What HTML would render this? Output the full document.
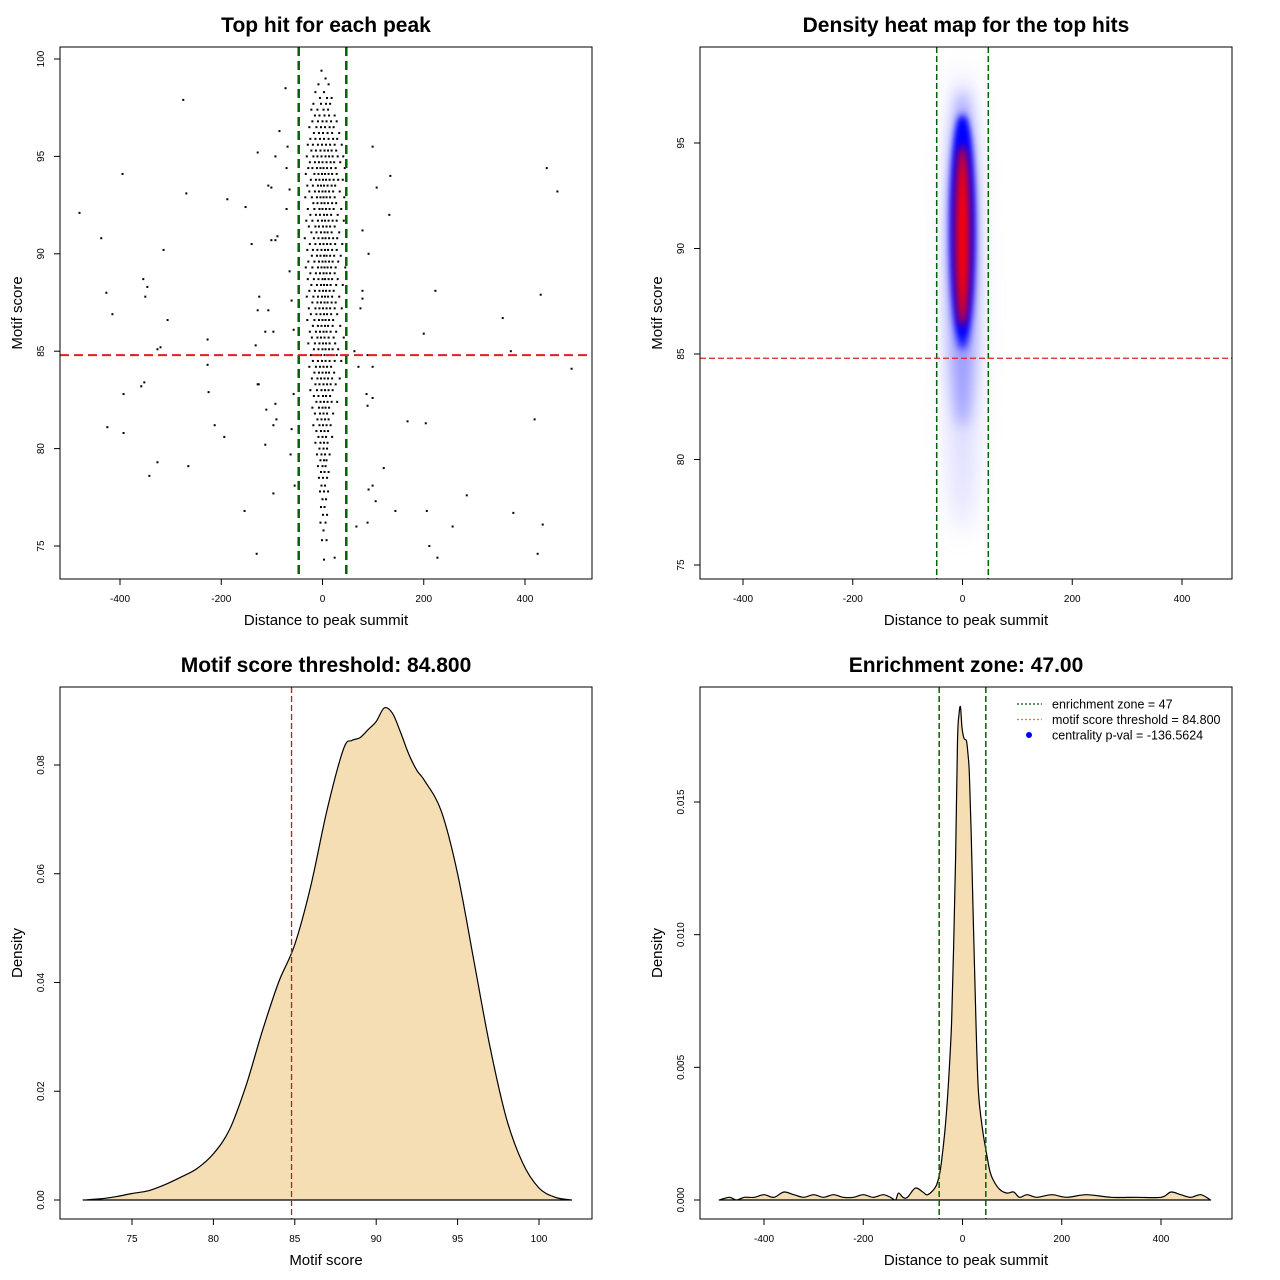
<!DOCTYPE html>
<html><head><meta charset="utf-8"><style>
html,body{margin:0;padding:0;background:#fff}
svg{display:block;font-family:"Liberation Sans",Arial,sans-serif}
</style></head><body>
<svg id="chart" width="1280" height="1280" viewBox="0 0 1280 1280" xmlns="http://www.w3.org/2000/svg">
<defs>
<filter id="b3" x="-100%" y="-100%" width="300%" height="300%"><feGaussianBlur stdDeviation="3"/></filter>
<filter id="b4" x="-100%" y="-100%" width="300%" height="300%"><feGaussianBlur stdDeviation="4"/></filter>
<filter id="b7" x="-100%" y="-100%" width="300%" height="300%"><feGaussianBlur stdDeviation="7"/></filter>
<filter id="b12" x="-100%" y="-100%" width="300%" height="300%"><feGaussianBlur stdDeviation="12"/></filter>
<clipPath id="clip2"><rect x="700" y="47" width="532" height="532"/></clipPath>
</defs>
</svg>
<script>
// ---------- data ----------
const outlierDist=[-480,-437,-427,-415,-395,-350,-354,-346,-314,-306,-320,-275,-269,-227,-188,-152,-140,-128,-101,-107,-93,-85,-73,-89,-101,-93,-125,-128,-107,-97,-113,-132,-126,-111,-93,-97,-91,-113,-128,-393,-425,-393,-358,-352,-342,-326,-265,-326,-375,-227,-225,-213,-194,-97,-154,-130,99,107,134,132,79,91,79,79,75,63,89,99,71,87,99,89,121,99,105,91,144,89,67,24,168,204,223,200,206,211,227,257,285,356,377,431,443,464,419,435,425,492,372,-69,-71,-71,-65,-65,-61,-57,-63,-57,-61,-63,-55];
const outlierScore=[92.1,90.8,88.0,86.9,94.1,87.8,88.7,88.3,90.2,86.6,85.2,97.9,93.1,85.6,92.8,92.4,90.5,95.2,93.4,93.5,95.0,96.3,98.5,90.9,90.7,90.7,87.8,87.1,87.1,86.0,86.0,85.3,83.3,82.0,82.3,81.2,81.5,80.2,83.3,82.8,81.1,80.8,83.2,83.4,78.6,79.3,79.1,85.1,84.8,84.3,82.9,81.2,80.6,77.7,76.8,74.6,95.5,93.4,94.0,92.0,91.2,90.0,88.1,87.7,87.2,85.0,84.8,84.2,84.2,82.8,82.6,82.2,79.0,78.1,77.3,77.9,76.8,76.2,76.0,74.4,81.4,81.3,88.1,85.9,76.8,75.0,74.4,76.0,77.6,86.7,76.7,87.9,94.4,93.2,81.5,76.1,74.6,84.1,85.0,95.5,94.4,92.3,93.3,89.1,87.6,86.1,84.8,82.8,81.0,79.7,78.1];
const clusterRows=[
[99.4,[-2]],[99.0,[6]],[98.7,[-8,12]],[98.3,[3,-14]],[98.0,[-5,9,18]],[97.7,[-18,-3,7,15]],[97.4,[-10,2,11,-22]],[97.1,[-15,-6,4,13,24]],[96.8,[-20,-9,0,8,17,28]],[96.5,[-26,-12,-3,5,14,22]],[96.2,[-17,-7,1,10,19,33]],[95.9,[-24,-14,-5,3,12,21,29]],[95.6,[-29,-19,-9,-1,7,15,24,38]],[95.3,[-22,-13,-4,4,11,18,27]],[95.0,[-31,-18,-10,-2,6,13,20,30,41]],[94.7,[-25,-15,-7,0,8,16,23,35]],[94.4,[-28,-20,-11,-4,2,9,17,26,44]],[94.1,[-33,-16,-8,-1,5,12,19,28]],[93.8,[-23,-13,-6,1,7,14,22,31,40]],[93.5,[-30,-19,-9,-3,3,10,18,25]],[93.2,[-26,-15,-7,0,6,13,21,34]],[92.9,[-34,-21,-11,-4,2,8,15,24,43]],[92.6,[-18,-10,-2,4,11,19,27]],[92.3,[-29,-16,-6,0,7,14,22,37]],[92.0,[-24,-13,-5,3,9,17,30]],[91.7,[-32,-20,-9,-1,5,12,20,28,42]],[91.4,[-27,-14,-7,1,8,15,24]],[91.1,[-22,-12,-3,4,10,18,33]],[90.8,[-35,-17,-8,0,6,13,21,29]],[90.5,[-25,-14,-5,2,9,16,25,39]],[90.2,[-30,-19,-10,-2,5,11,19,28]],[89.9,[-21,-11,-4,3,8,15,23,36]],[89.6,[-28,-16,-7,0,6,13,20,31]],[89.3,[-33,-20,-9,-2,4,10,17,26,45]],[89.0,[-24,-13,-5,2,8,15,24]],[88.7,[-29,-17,-8,0,5,12,19,30]],[88.4,[-22,-11,-3,3,9,16,27,40]],[88.1,[-26,-15,-6,1,7,14,22]],[87.8,[-31,-18,-9,-1,5,11,19,33]],[87.5,[-20,-10,-3,4,10,18,26]],[87.2,[-27,-14,-6,1,8,15,24,38]],[86.9,[-23,-12,-4,3,9,17,29]],[86.6,[-30,-16,-7,0,6,13,21]],[86.3,[-19,-9,-2,5,11,20,35]],[86.0,[-25,-13,-5,2,8,16,27]],[85.7,[-21,-10,-3,4,12,22,42]],[85.4,[-28,-15,-6,1,7,14,25]],[85.1,[-17,-8,0,6,13,20,31]],[84.8,[-23,-11,-3,4,10,18,28]],[84.5,[-19,-9,-1,6,14,24,37]],[84.2,[-26,-13,-5,2,9,17]],[83.9,[-16,-7,0,7,13,23]],[83.6,[-21,-10,-3,4,11,19,34]],[83.3,[-14,-6,2,9,16,26]],[83.0,[-24,-11,-2,5,12,20]],[82.7,[-17,-8,1,7,15]],[82.4,[-12,-4,3,10,18,29]],[82.1,[-20,-7,0,6,13]],[81.8,[-15,-5,2,9,21]],[81.5,[-10,-2,5,12]],[81.2,[-18,-6,1,8,16]],[80.9,[-12,-3,4,11]],[80.6,[-8,0,7,19]],[80.3,[-14,-4,3,10]],[80.0,[-6,2,9]],[79.7,[-11,-2,5,14]],[79.4,[-4,3,8]],[79.1,[-9,0,6]],[78.8,[-3,4,12]],[78.5,[-7,1,9]],[78.1,[-2,5]],[77.8,[-5,3,11]],[77.4,[0,7]],[77.0,[-3,4]],[76.6,[1,9]],[76.2,[-4,6]],[75.8,[2]],[75.3,[-1,8]],[74.3,[3]]];
// heatmap density blobs (distance, score, spreads, colour)
const blobDist=[0,0,0,0,0];
const blobScore=[87.5,89.5,90.8,91.0,90.6];
const blobSpreadDist=[30,26,22,20,13];
const blobSpreadScore=[11,8,5.6,5.2,4.3];
const blobColor=['#c8c8ff','#8080ff','#0000ff','#0000ff','#ff0000'];
const blobOpacity=[0.7,0.7,1,1,1];
// motif score density
const scoreX=[72,73,74,75,76,77,78,79,80,81,82,83,84,85,86,87,88,88.5,89,89.5,90,90.5,91,91.5,92,92.5,93,94,95,96,97,98,99,100,101,102];
const scoreY=[0,0.0002,0.0006,0.0012,0.0017,0.0028,0.0042,0.0058,0.0085,0.013,0.021,0.031,0.040,0.047,0.058,0.072,0.083,0.0845,0.085,0.0865,0.088,0.0905,0.0895,0.086,0.082,0.079,0.077,0.0715,0.060,0.044,0.028,0.015,0.0068,0.0022,0.0005,0];
// distance density
const distX=[-490,-470,-455,-440,-420,-400,-380,-360,-340,-320,-300,-280,-260,-240,-220,-200,-180,-160,-145,-135,-129,-120,-111,-95,-80,-70,-54,-46,-40,-34,-28,-22,-18,-14,-10,-7,-4,-1,3,8,11,14,18,22,27,32,40,48,55,62,75,90,103,115,130,150,180,210,250,300,350,400,420,440,460,480,500];
const distY=[0,0.0001,0,0.0001,0.0001,0.0002,0.0001,0.0003,0.0002,0.0001,0.0002,0.0001,0.0002,0.0001,0.0001,0.0002,0.0001,0.0002,0.0001,0,0.00026,0.0001,0.0001,0.00045,0.0003,0.0002,0.0005,0.001,0.0018,0.0029,0.0045,0.0067,0.0095,0.0129,0.0173,0.0183,0.01858,0.0178,0.0174,0.0173,0.0168,0.0160,0.0135,0.0104,0.0068,0.0041,0.0027,0.0018,0.0011,0.00075,0.0004,0.00026,0.0003,0.0001,0.0002,0.0001,0.0002,0.0001,0.0002,0.0001,0.0001,0.0001,0.0003,0.0002,0.0001,0.0002,0];
const zoneHalf=47, threshold=84.8;
const ticks1X=[-400,-200,0,200,400], ticks1Y=[75,80,85,90,95,100];
const ticks2Y=[75,80,85,90,95];
const ticks3X=[75,80,85,90,95,100], ticks3Y=[0,0.02,0.04,0.06,0.08];
const ticks3YLabels=['0.00','0.02','0.04','0.06','0.08'];
const ticks4Y=[0,0.005,0.010,0.015], ticks4YLabels=['0.000','0.005','0.010','0.015'];

// ---------- helpers ----------
const svg=document.getElementById('chart');
const NS='http://www.w3.org/2000/svg';
function mk(tag,attrs,parent){const e=document.createElementNS(NS,tag);for(const k in attrs)e.setAttribute(k,attrs[k]);(parent||svg).appendChild(e);return e;}
function scale(d0,d1,p0,p1){return v=>p0+(v-d0)/(d1-d0)*(p1-p0);}
function txt(x,y,s,size,extra,parent){const t=mk('text',Object.assign({x:x,y:y,'font-size':size,'text-anchor':'middle',fill:'#000'},extra||{}),parent);t.textContent=s;return t;}
function smoothPath(xs,ys){ // catmull-rom through points
  let d='M'+xs[0].toFixed(1)+','+ys[0].toFixed(1);
  for(let i=0;i<xs.length-1;i++){
    const x0=xs[Math.max(i-1,0)],y0=ys[Math.max(i-1,0)],x1=xs[i],y1=ys[i],x2=xs[i+1],y2=ys[i+1],x3=xs[Math.min(i+2,xs.length-1)],y3=ys[Math.min(i+2,xs.length-1)];
    const c1x=x1+(x2-x0)/6,c1y=y1+(y2-y0)/6,c2x=x2-(x3-x1)/6,c2y=y2-(y3-y1)/6;
    d+=` C${c1x.toFixed(1)},${c1y.toFixed(1)} ${c2x.toFixed(1)},${c2y.toFixed(1)} ${x2.toFixed(1)},${y2.toFixed(1)}`;
  }
  return d;
}

function axes(P,xt,xl,yt,yl,title,xtitle,ytitle,id){
  const g=mk('g',{});
  
  
  const box=mk('rect',{x:P.x0,y:P.y0,width:P.x1-P.x0,height:P.y1-P.y0,fill:'none',stroke:'#000','stroke-width':1},g);
  
  
  xt.forEach((v,i)=>{const x=P.sx(v);
    const l=mk('line',{x1:x,x2:x,y1:P.y1,y2:P.y1+6,stroke:'#000'},g);
    
    
    const t=txt(x,P.y1+23,xl[i],10,{},g);
    
    });
  yt.forEach((v,i)=>{const y=P.sy(v);
    const l=mk('line',{x1:P.x0-6,x2:P.x0,y1:y,y2:y,stroke:'#000'},g);
    
    
    const t=txt(P.x0-16,y,yl[i],10,{transform:`rotate(-90 ${P.x0-16} ${y})`},g);
    
    });
  const tt=txt((P.x0+P.x1)/2,P.y0-15,title,21,{'font-weight':'bold'},g);
  
  
  const xtt=txt((P.x0+P.x1)/2,P.y1+46,xtitle,15,{},g);
  
  
  const yx=P.x0-38, yy=(P.y0+P.y1)/2;
  const ytt=txt(yx,yy,ytitle,15,{transform:`rotate(-90 ${yx} ${yy})`},g);
  
  
}
function vline(P,v,color,w,dash,name){const l=mk('line',{x1:P.sx(v),x2:P.sx(v),y1:P.y0,y2:P.y1,stroke:color,'stroke-width':w,'stroke-dasharray':dash});
  
  }
function hline(P,v,color,w,dash,name){const l=mk('line',{x1:P.x0,x2:P.x1,y1:P.sy(v),y2:P.sy(v),stroke:color,'stroke-width':w,'stroke-dasharray':dash});
  
  }

// ---------- panel 1: scatter ----------
const P1={x0:60,x1:592,y0:47,y1:579};P1.sx=scale(-400,400,120,525);P1.sy=scale(75,100,546,59);
const pts=mk('g',{fill:'#000'});


function dot(d,s){const r=mk('rect',{x:P1.sx(d)-1,y:P1.sy(s)-1,width:2,height:2},pts);
  
  }
outlierDist.forEach((d,i)=>dot(d,outlierScore[i]));
clusterRows.forEach(r=>r[1].forEach(d=>dot(d,r[0])));
vline(P1,-zoneHalf,'#006400',2.5,'9,5','zone-left-line');
vline(P1,zoneHalf,'#006400',2.5,'9,5','zone-right-line');
hline(P1,threshold,'#dd2222',2,'9,5','threshold-line');
axes(P1,ticks1X,ticks1X.map(String),ticks1Y,ticks1Y.map(String),'Top hit for each peak','Distance to peak summit','Motif score','scatter');

// ---------- panel 2: heatmap ----------
const P2={x0:700,x1:1232,y0:47,y1:579};P2.sx=scale(-400,400,743,1182);P2.sy=scale(75,95,565,143);
const hg=mk('g',{'clip-path':'url(#clip2)'});


const blurs=['url(#b12)','url(#b7)','url(#b4)','url(#b3)','url(#b4)'];
blobDist.forEach((d,i)=>{
  const cx=P2.sx(d), cy=P2.sy(blobScore[i]);
  const rx=Math.abs(P2.sx(blobSpreadDist[i])-P2.sx(0)), ry=Math.abs(P2.sy(0)-P2.sy(blobSpreadScore[i]));
  const e=mk('ellipse',{cx:cx,cy:cy,rx:rx,ry:ry,fill:blobColor[i],opacity:blobOpacity[i],filter:blurs[i]},hg);
  
  });
vline(P2,-zoneHalf,'#006400',1.5,'6,3','heatmap-zone-left-line');
vline(P2,zoneHalf,'#006400',1.5,'6,3','heatmap-zone-right-line');
hline(P2,threshold,'#dd2222',1.3,'6,3','heatmap-threshold-line');
axes(P2,ticks1X,ticks1X.map(String),ticks2Y,ticks2Y.map(String),'Density heat map for the top hits','Distance to peak summit','Motif score','heatmap');

// ---------- panel 3: score density ----------
const P3={x0:60,x1:592,y0:687,y1:1219};P3.sx=scale(75,100,132,539);P3.sy=scale(0,0.08,1200,765);
const d3=smoothPath(scoreX.map(P3.sx),scoreY.map(P3.sy))+' Z';
const a3=mk('path',{d:d3,fill:'#f5deb3',stroke:'#000','stroke-width':1.2,'stroke-linejoin':'round'});


vline(P3,threshold,'#b22222',1.3,'6,3','score-threshold-line');
axes(P3,ticks3X,ticks3X.map(String),ticks3Y,ticks3YLabels,'Motif score threshold: 84.800','Motif score','Density','score-density');

// ---------- panel 4: distance density ----------
const P4={x0:700,x1:1232,y0:687,y1:1219};P4.sx=scale(-400,400,764,1161);P4.sy=scale(0,0.015,1200,802);
const d4=smoothPath(distX.map(P4.sx),distY.map(P4.sy))+' Z';
const a4=mk('path',{d:d4,fill:'#f5deb3',stroke:'#000','stroke-width':1.2,'stroke-linejoin':'round'});


vline(P4,-zoneHalf,'#006400',1.5,'6,3','enrichment-zone-left-line');
vline(P4,zoneHalf,'#006400',1.5,'6,3','enrichment-zone-right-line');
axes(P4,ticks1X,ticks1X.map(String),ticks4Y,ticks4YLabels,'Enrichment zone: 47.00','Distance to peak summit','Density','distance-density');

// legend
const lg=mk('g',{});


const legTexts=['enrichment zone = 47','motif score threshold = 84.800','centrality p-val = -136.5624'];
const legColors=['#006400','#ee6666','#0000ff'];
legTexts.forEach((s,i)=>{const y=704+i*15.5;
  if(i<2){const l=mk('line',{x1:1017,x2:1042,y1:y,y2:y,stroke:legColors[i],'stroke-width':1.2,'stroke-dasharray':'2,2'},lg);
    
    }
  else{const c=mk('circle',{cx:1029,cy:y,r:3,fill:legColors[i]},lg);
    
    }
  const t=txt(1052,y+4.5,s,12.5,{'text-anchor':'start'},lg);
  
  });
</script>
</body></html>
